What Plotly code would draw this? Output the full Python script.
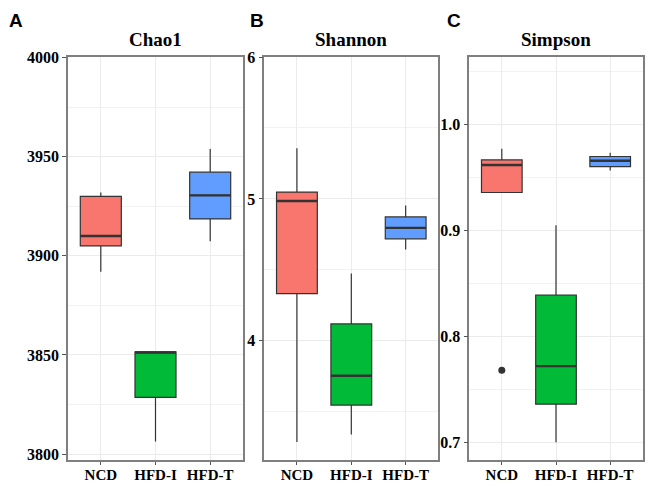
import plotly.graph_objects as go

categories = ["NCD", "HFD-I", "HFD-T"]
colors = ["#F8766D", "#00BA38", "#619CFF"]

# Chao1
chao1_low = [3892, 3806.3, 3907.4]
chao1_q1 = [3905, 3828.6, 3918.6]
chao1_med = [3910, 3851.2, 3930.5]
chao1_q3 = [3930, 3851.6, 3942.2]
chao1_high = [3932, 3851.6, 3953.9]
chao1_outliers = [[], [], []]
chao1_ticks = [3800, 3850, 3900, 3950, 4000]
chao1_ticktext = ["3800", "3850", "3900", "3950", "4000"]
chao1_range = [3797, 4000.3]

# Shannon
shannon_low = [3.287, 3.340, 4.644]
shannon_q1 = [4.333, 3.547, 4.719]
shannon_med = [4.985, 3.754, 4.796]
shannon_q3 = [5.048, 4.119, 4.873]
shannon_high = [5.357, 4.475, 4.954]
shannon_outliers = [[], [], []]
shannon_ticks = [4, 5, 6]
shannon_ticktext = ["4", "5", "6"]
shannon_range = [3.16, 6.0]

# Simpson
simpson_low = [0.936, 0.700, 0.9567]
simpson_q1 = [0.936, 0.736, 0.9605]
simpson_med = [0.962, 0.772, 0.966]
simpson_q3 = [0.9668, 0.839, 0.970]
simpson_high = [0.9774, 0.905, 0.9736]
simpson_outliers = [[0.768], [], []]
simpson_ticks = [0.7, 0.8, 0.9, 1.0]
simpson_ticktext = ["0.7", "0.8", "0.9", "1.0"]
simpson_range = [0.6833, 1.064]

titles = ["Chao1", "Shannon", "Simpson"]
letters = ["A", "B", "C"]

panels = [
    (chao1_low, chao1_q1, chao1_med, chao1_q3, chao1_high, chao1_outliers, chao1_ticks, chao1_ticktext, chao1_range),
    (shannon_low, shannon_q1, shannon_med, shannon_q3, shannon_high, shannon_outliers, shannon_ticks, shannon_ticktext, shannon_range),
    (simpson_low, simpson_q1, simpson_med, simpson_q3, simpson_high, simpson_outliers, simpson_ticks, simpson_ticktext, simpson_range),
]

W, H = 650, 486
xpix = [(68, 243), (264.3, 438.3), (469.3, 642.7)]
ytop, ybot = 57, 460
BW = 0.75

fig = go.Figure()
layout = dict(
    width=W, height=H, margin=dict(l=0, r=0, t=0, b=0, autoexpand=False),
    paper_bgcolor="white", plot_bgcolor="white", showlegend=False,
)
annotations = []
serif = "Liberation Serif"

for p, (low, q1, med, q3, high, outl, ticks, ticktext, yr) in enumerate(panels):
    xa = "x" if p == 0 else f"x{p+1}"
    ya = "y" if p == 0 else f"y{p+1}"
    for i, cat in enumerate(categories):
        fig.add_trace(go.Box(
            x=[i], q1=[q1[i]], median=[med[i]], q3=[q3[i]],
            lowerfence=[low[i]], upperfence=[high[i]],
            width=BW, whiskerwidth=0,
            fillcolor=colors[i], line=dict(color="#333333", width=1.2),
            xaxis=xa, yaxis=ya, boxpoints=False, hoverinfo="skip",
        ))
        # thicker median line like ggplot
        fig.add_trace(go.Scatter(
            x=[i - BW / 2, i + BW / 2], y=[med[i], med[i]], mode="lines",
            line=dict(color="#333333", width=2.4), xaxis=xa, yaxis=ya, hoverinfo="skip",
        ))
        if outl[i]:
            fig.add_trace(go.Scatter(
                x=[i] * len(outl[i]), y=outl[i], mode="markers",
                marker=dict(color="#333333", size=7), xaxis=xa, yaxis=ya, hoverinfo="skip",
            ))
    minor_vals = [(ticks[k] + ticks[k + 1]) / 2 for k in range(len(ticks) - 1)]
    step = ticks[1] - ticks[0]
    minor_vals = [ticks[0] - step / 2] + minor_vals + [ticks[-1] + step / 2]
    x0, x1 = xpix[p]
    axkey_x = "xaxis" if p == 0 else f"xaxis{p+1}"
    axkey_y = "yaxis" if p == 0 else f"yaxis{p+1}"
    layout[axkey_x] = dict(
        domain=[x0 / W, x1 / W], anchor=ya, range=[-0.6, 2.6], automargin=False,
        tickmode="array", tickvals=list(range(len(categories))), ticktext=categories,
        showgrid=True, gridcolor="#EBEBEB", gridwidth=1,
        showline=True, mirror=True, linecolor="#7F7F7F", linewidth=1.6,
        ticks="outside", ticklen=3, tickcolor="#555555", tickwidth=1,
        ticklabelstandoff=-3,
        tickfont=dict(family=serif, size=15, color="black", weight="bold"),
        zeroline=False, fixedrange=True,
    )
    layout[axkey_y] = dict(
        domain=[1 - ybot / H, 1 - ytop / H], anchor=xa, range=yr, automargin=False,
        tickmode="array", tickvals=ticks, ticktext=ticktext,
        showgrid=True, gridcolor="#EBEBEB", gridwidth=1,
        minor=dict(tickmode="array", tickvals=minor_vals, showgrid=True,
                   gridcolor="#F2F2F2", gridwidth=0.8, ticks=""),
        showline=True, mirror=True, linecolor="#7F7F7F", linewidth=1.6,
        ticks="outside", ticklen=4, tickcolor="#555555", tickwidth=1,
        tickfont=dict(family=serif, size=16, color="black", weight="bold"),
        zeroline=False, fixedrange=True,
    )
    annotations.append(dict(
        text=titles[p], x=(x0 + x1) / 2 / W, y=1 - 39 / H, xref="paper", yref="paper",
        showarrow=False, xanchor="center", yanchor="middle",
        font=dict(family=serif, size=19, color="black", weight="bold"),
    ))

letter_x = [16, 256.5, 454]
for p in range(3):
    annotations.append(dict(
        text=letters[p], x=letter_x[p] / W, y=1 - 20 / H, xref="paper", yref="paper",
        showarrow=False, xanchor="center", yanchor="middle",
        font=dict(family="Liberation Sans", size=19, color="black", weight="bold"),
    ))

layout["annotations"] = annotations
fig.update_layout(**layout)
fig.write_html(
    "out.html",
    config={"displayModeBar": False},
    post_script="document.body.style.margin='0';document.body.style.padding='0';document.body.style.overflow='hidden';",
)
